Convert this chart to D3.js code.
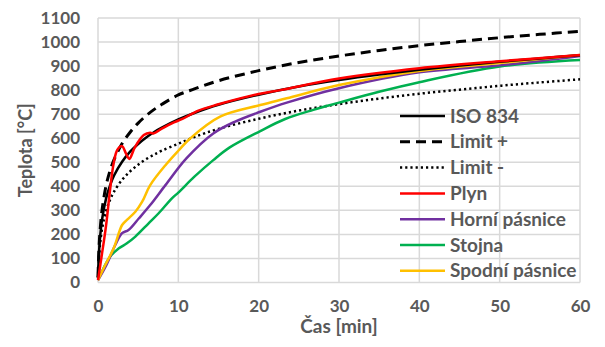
<!DOCTYPE html>
<html>
<head>
<meta charset="utf-8">
<script src="https://cdn.jsdelivr.net/npm/d3@7"></script>
<style>
  body { margin: 0; background: #fff; }
  text { font-family: Lato, "Open Sans", sans-serif; fill: #595959; font-weight: bold; }
</style>
</head>
<body>
<svg id="chart" width="605" height="347"></svg>
<script>
let width = 605;
let height = 347;
let margins = {top: 18, bottom: 64.5, left: 98, right: 25};

// time ticks and temperature ticks
const x_ticks = [0, 10, 20, 30, 40, 50, 60];
const y_ticks = [0, 100, 200, 300, 400, 500, 600, 700, 800, 900, 1000, 1100];

// ISO 834 and limits
const iso_t = [0, 0.1, 0.25, 0.5, 1, 1.5, 2, 3, 4, 5, 6, 7, 8, 10, 12, 15, 20, 25, 30, 35, 40, 45, 50, 55, 60];
const iso_v = [20, 108, 185, 261, 349, 404, 445, 502, 544, 576, 603, 626, 645, 678, 705, 739, 781, 815, 842, 865, 885, 902, 918, 932, 945];
const limit_plus_v = [23, 124, 212, 300, 402, 465, 511, 578, 625, 663, 694, 720, 742, 780, 805, 839, 881, 915, 942, 965, 985, 1002, 1018, 1032, 1045];
const limit_minus_v = [17, 92, 157, 222, 297, 344, 378, 427, 462, 490, 513, 532, 549, 577, 605, 639, 681, 715, 742, 765, 785, 802, 818, 832, 845];

// measured curves
const plyn_t = [0, 0.5, 1, 1.5, 1.95, 2.4, 3.0, 3.5, 3.9, 4.6, 5.7, 6.5, 6.9, 8, 9.2, 10.5, 12.5, 15, 20, 22.7, 30, 40, 50, 60];
const plyn_v = [10, 120, 236, 385, 496, 551, 567, 535, 514, 563, 613, 623, 620, 641, 662, 680, 715, 741, 784, 800, 848, 891, 920, 946];

const horni_t = [0, 1, 2.15, 3.0, 3.8, 5.1, 6.5, 8.4, 11, 14.35, 17, 20.2, 23.5, 30, 40, 50, 60];
const horni_v = [10, 70, 156, 205, 218, 267, 322, 405, 516, 620, 668, 710, 748, 808, 874, 903, 942];

const stojna_t = [0, 1.5, 2.6, 3.6, 4.65, 6.3, 7.55, 9.2, 10, 12, 14.35, 16.4, 20.2, 23.3, 26.8, 30, 35.1, 40, 50, 60];
const stojna_v = [10, 107, 142, 163, 191, 246, 288, 350, 374, 440, 509, 562, 630, 680, 718, 748, 794, 833, 898, 925];

const spodni_t = [0, 0.9, 1.95, 3.0, 3.6, 4.65, 5.5, 6.5, 8.5, 10, 11.5, 15.2, 20.2, 23.5, 30, 40, 50, 60];
const spodni_v = [10, 73, 142, 239, 260, 294, 336, 405, 492, 548, 600, 690, 738, 766, 821, 880, 913, 946];

const names = ["ISO 834", "Limit +", "Limit -", "Plyn", "Horní pásnice", "Stojna", "Spodní pásnice"];
const colors = ["#000000", "#000000", "#000000", "#FF0000", "#7030A0", "#00B050", "#FFC000"];
const dashes = [null, "10,6", "2.2,3", null, null, null, null];
const widths = [2.5, 3, 2.5, 2.5, 2.5, 2.5, 2.5];

function zip(t, v) {
	return t.map((d, i) => ({t: d, v: v[i]}));
}

function main() {
	const series = [
		zip(iso_t, iso_v),
		zip(iso_t, limit_plus_v),
		zip(iso_t, limit_minus_v),
		zip(plyn_t, plyn_v),
		zip(horni_t, horni_v),
		zip(stojna_t, stojna_v),
		zip(spodni_t, spodni_v)
	];
	let scales = make_scales();
	draw_grid(scales);
	draw_lines(series, scales);
	draw_axes(scales);
	draw_legend();
}

function make_scales() {
	return {
		x: d3.scaleLinear()
			.domain([0, 60])
			.range([margins.left, width - margins.right]),
		y: d3.scaleLinear()
			.domain([0, 1100])
			.range([height - margins.bottom, margins.top])
	};
}

function draw_grid(scales) {
	const svg = d3.select("#chart");
	svg.append("g")
		.selectAll("line")
		.data(y_ticks).enter()
		.append("line")
		.attr("x1", scales.x(0)).attr("x2", scales.x(60))
		.attr("y1", d => scales.y(d)).attr("y2", d => scales.y(d))
		.attr("stroke", "#D9D9D9").attr("stroke-width", 1.5);
	svg.append("g")
		.selectAll("line")
		.data(x_ticks).enter()
		.append("line")
		.attr("y1", scales.y(0)).attr("y2", scales.y(1100))
		.attr("x1", d => scales.x(d)).attr("x2", d => scales.x(d))
		.attr("stroke", "#D9D9D9").attr("stroke-width", 1.5);
}

function draw_lines(series, scales) {
	const line = d3.line()
		.x(d => scales.x(d.t))
		.y(d => scales.y(d.v))
		.curve(d3.curveCatmullRom.alpha(0.5));

	// coloured series first, ISO then red on top like the original
	const order = [2, 1, 5, 4, 6, 0, 3];
	d3.select("#chart").append("g")
		.selectAll("path")
		.data(order).enter()
		.append("path")
		.attr("d", i => line(series[i]))
		.attr("fill", "none")
		.attr("stroke", i => colors[i])
		.attr("stroke-width", i => widths[i])
		.attr("stroke-dasharray", i => dashes[i])
		.attr("stroke-linejoin", "round");
}

function draw_axes(scales) {
	const svg = d3.select("#chart");
	const yAxis = d3.axisLeft(scales.y).tickValues(y_ticks).tickFormat(d3.format("d")).tickSize(0).tickPadding(18);
	const gy = svg.append("g")
		.attr("transform", `translate(${margins.left},0)`)
		.call(yAxis);
	gy.select(".domain").remove();
	gy.selectAll("text")
		.style("font-size", "17px").style("font-family", "Lato").attr("fill", "#595959");

	const xAxis = d3.axisBottom(scales.x).tickValues(x_ticks).tickSize(0).tickPadding(17);
	const gx = svg.append("g")
		.attr("transform", `translate(0,${height - margins.bottom})`)
		.call(xAxis);
	gx.select(".domain").remove();
	gx.selectAll("text")
		.style("font-size", "17px").style("font-family", "Lato").attr("fill", "#595959");

	svg.append("text")
		.attr("x", (scales.x(0) + scales.x(60)) / 2)
		.attr("y", 333)
		.attr("text-anchor", "middle")
		.style("font-size", "19px")
		.text("Čas [min]");

	svg.append("text")
		.attr("transform", `translate(32,${(scales.y(0) + scales.y(1100)) / 2}) rotate(-90)`)
		.attr("text-anchor", "middle")
		.style("font-size", "18px")
		.text("Teplota [°C]");
}

function draw_legend() {
	const g = d3.select("#chart").append("g")
		.attr("transform", "translate(400,116)");
	const rows = g.selectAll("g")
		.data(names).enter()
		.append("g")
		.attr("transform", (d, i) => `translate(0,${i * 25.8})`);
	rows.append("line")
		.attr("x1", 0).attr("x2", 45)
		.attr("stroke", (d, i) => colors[i])
		.attr("stroke-width", (d, i) => widths[i])
		.attr("stroke-dasharray", (d, i) => dashes[i]);
	rows.append("text")
		.attr("x", 50).attr("dy", "0.35em")
		.style("font-size", "19px")
		.text(d => d);
}

main();
</script>
</body>
</html>
